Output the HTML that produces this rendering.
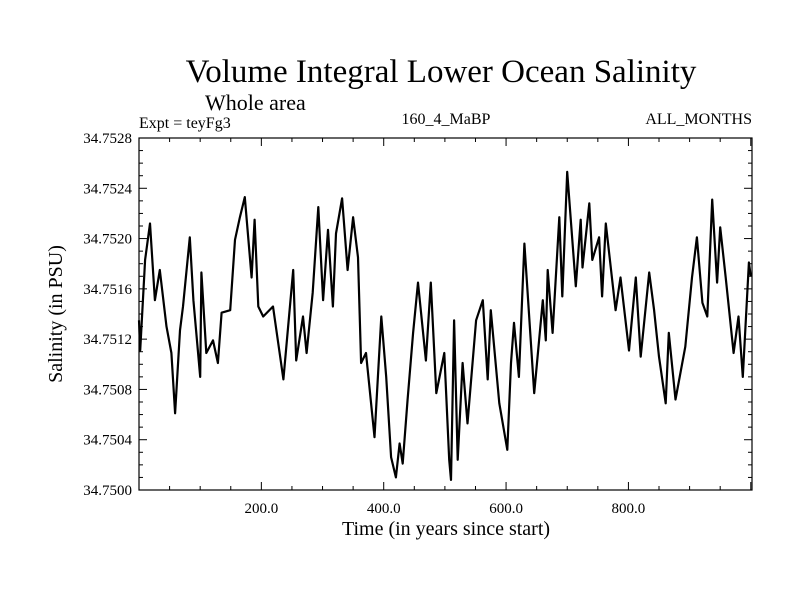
<!DOCTYPE html>
<html><head><meta charset="utf-8">
<style>
html,body{margin:0;padding:0;background:#fff;}
svg{display:block;font-family:"Liberation Serif",serif;}
</style></head>
<body>
<svg id="chart" width="800" height="600" viewBox="0 0 800 600">
<text x="441" y="82" font-size="33" text-anchor="middle">Volume Integral Lower Ocean Salinity</text>
<text x="205" y="110" font-size="22">Whole area</text>
<text x="139" y="128" font-size="16">Expt = teyFg3</text>
<text x="446" y="124" font-size="16" text-anchor="middle">160_4_MaBP</text>
<text x="752" y="124" font-size="16" text-anchor="end">ALL_MONTHS</text>
<text x="446" y="535" font-size="20" text-anchor="middle">Time (in years since start)</text>
<text transform="translate(62,314) rotate(-90)" font-size="20" text-anchor="middle">Salinity (in PSU)</text>
<g id="axes"></g>
<path id="series" fill="none" stroke="#000" stroke-width="2.2" stroke-linejoin="round"></path>
<rect x="139" y="138" width="613" height="352" fill="none" stroke="#000" stroke-width="1.2"/>
</svg>
<script>
const years = [0,2,10,18,26,34,45,53,59,67,72,83,89,100,102,110,121,129,135,149,157,165,173,184,189,195,203,219,236,252,257,268,274,284,293,301,309,317,322,332,341,350,358,363,371,385,396,404,412,420,426,431,439,448,456,469,477,486,499,507,510,515,521,529,537,551,562,570,575,589,602,608,613,621,630,646,660,665,668,676,687,692,700,714,722,725,736,741,752,757,763,779,787,801,812,820,834,842,850,861,866,877,893,904,912,921,929,937,945,950,959,972,980,987,997,1000];
const salinity = [13.5,11.1,18.3,21.2,15.1,17.5,13,10.9,6.1,12.7,14.6,20.1,15.1,9,17.3,10.9,11.9,10.1,14.1,14.3,19.9,21.7,23.3,16.9,21.5,14.6,13.8,14.6,8.8,17.5,10.3,13.8,10.9,15.7,22.5,15.1,20.7,14.6,20.4,23.2,17.5,21.7,18.5,10.1,10.9,4.2,13.8,9,2.6,1,3.7,2.1,7.2,12.5,16.5,10.3,16.5,7.7,10.9,2.4,0.8,13.5,2.4,10.1,5.3,13.5,15.1,8.8,14.3,6.9,3.2,10.1,13.3,9,19.6,7.7,15.1,11.9,17.5,12.5,21.7,15.4,25.3,16.2,21.5,17.7,22.8,18.3,20.1,15.4,21.2,14.3,16.9,11.1,16.9,10.6,17.3,14.3,10.6,6.9,12.5,7.2,11.4,16.9,20.1,14.9,13.8,23.1,16.5,20.9,16.9,10.9,13.8,9,18.1,17].map(v=>34.75+v*1e-4);
const yTicks = [34.75,34.7504,34.7508,34.7512,34.7516,34.752,34.7524,34.7528];
const xTicks = [200,400,600,800];
const X0=139,X1=752,Y0=490,Y1=138,XMAX=1002,YMIN=34.75,YMAX=34.7528;
const sx=v=>X0+(v/XMAX)*(X1-X0);
const sy=v=>Y0-(v-YMIN)/(YMAX-YMIN)*(Y0-Y1);
const NS="http://www.w3.org/2000/svg";
const ax=document.getElementById('axes');
function line(x1,y1,x2,y2,name){const l=document.createElementNS(NS,'line');l.setAttribute('x1',x1);l.setAttribute('y1',y1);l.setAttribute('x2',x2);l.setAttribute('y2',y2);l.setAttribute('stroke','#000');l.setAttribute('stroke-width','1');


ax.appendChild(l);}
function txt(x,y,s,anchor,name){const t=document.createElementNS(NS,'text');t.setAttribute('x',x);t.setAttribute('y',y);t.setAttribute('font-size','15');t.setAttribute('text-anchor',anchor);t.textContent=s;


ax.appendChild(t);}
for(let i=0;i<=28;i++){const v=YMIN+i*1e-4,y=sy(v),L=(i%4===0)?8:4;line(X0,y,X0+L,y,'y-tick');line(X1,y,X1-L,y,'y-tick-right');}
yTicks.forEach(v=>txt(132,sy(v)+5,v.toFixed(4),'end','y-tick-label'));
for(let yr=50;yr<XMAX;yr+=50){const x=sx(yr),L=(yr%200===0)?8:4;line(x,Y0,x,Y0-L,'x-tick');line(x,Y1,x,Y1+L,'x-tick-top');}
xTicks.forEach(v=>txt(sx(v),513,v.toFixed(1),'middle','x-tick-label'));
document.getElementById('series').setAttribute('d',years.map((yr,i)=>(i?'L':'M')+sx(yr).toFixed(1)+','+sy(salinity[i]).toFixed(1)).join(''));
</script>
</body></html>
